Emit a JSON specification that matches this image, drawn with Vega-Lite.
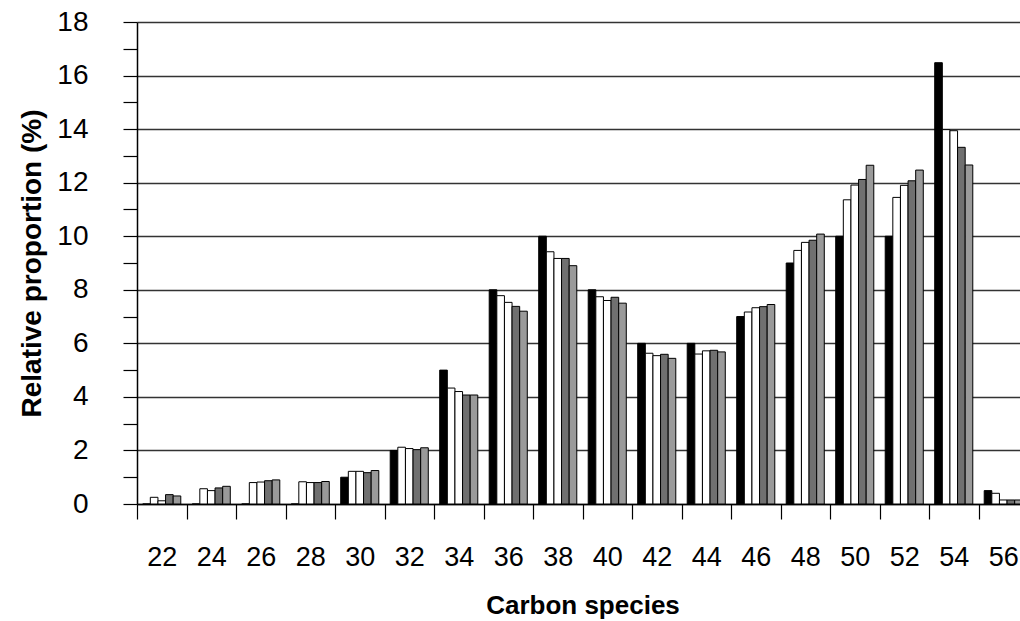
{
  "$schema": "https://vega.github.io/schema/vega-lite/v6.json",
  "autosize": {"type": "none"},
  "padding": {"left": 137, "top": 22, "right": 0, "bottom": 117},
  "width": 883,
  "height": 482,
  "background": "white",
  "config": {"view": {"stroke": null}, "font": "Liberation Sans"},
  "datasets": {
    "d": [
      {"c": "22", "s": "A", "v": 0}, {"c": "22", "s": "B", "v": 0.25}, {"c": "22", "s": "C", "v": 0.12}, {"c": "22", "s": "D", "v": 0.35}, {"c": "22", "s": "E", "v": 0.3},
      {"c": "24", "s": "A", "v": 0}, {"c": "24", "s": "B", "v": 0.57}, {"c": "24", "s": "C", "v": 0.5}, {"c": "24", "s": "D", "v": 0.6}, {"c": "24", "s": "E", "v": 0.66},
      {"c": "26", "s": "A", "v": 0}, {"c": "26", "s": "B", "v": 0.8}, {"c": "26", "s": "C", "v": 0.82}, {"c": "26", "s": "D", "v": 0.87}, {"c": "26", "s": "E", "v": 0.9},
      {"c": "28", "s": "A", "v": 0}, {"c": "28", "s": "B", "v": 0.83}, {"c": "28", "s": "C", "v": 0.8}, {"c": "28", "s": "D", "v": 0.8}, {"c": "28", "s": "E", "v": 0.84},
      {"c": "30", "s": "A", "v": 1.0}, {"c": "30", "s": "B", "v": 1.22}, {"c": "30", "s": "C", "v": 1.22}, {"c": "30", "s": "D", "v": 1.17}, {"c": "30", "s": "E", "v": 1.25},
      {"c": "32", "s": "A", "v": 2.0}, {"c": "32", "s": "B", "v": 2.12}, {"c": "32", "s": "C", "v": 2.07}, {"c": "32", "s": "D", "v": 2.03}, {"c": "32", "s": "E", "v": 2.1},
      {"c": "34", "s": "A", "v": 5.0}, {"c": "34", "s": "B", "v": 4.33}, {"c": "34", "s": "C", "v": 4.2}, {"c": "34", "s": "D", "v": 4.07}, {"c": "34", "s": "E", "v": 4.07},
      {"c": "36", "s": "A", "v": 8.0}, {"c": "36", "s": "B", "v": 7.78}, {"c": "36", "s": "C", "v": 7.53}, {"c": "36", "s": "D", "v": 7.38}, {"c": "36", "s": "E", "v": 7.2},
      {"c": "38", "s": "A", "v": 10.0}, {"c": "38", "s": "B", "v": 9.42}, {"c": "38", "s": "C", "v": 9.17}, {"c": "38", "s": "D", "v": 9.17}, {"c": "38", "s": "E", "v": 8.9},
      {"c": "40", "s": "A", "v": 8.0}, {"c": "40", "s": "B", "v": 7.74}, {"c": "40", "s": "C", "v": 7.6}, {"c": "40", "s": "D", "v": 7.72}, {"c": "40", "s": "E", "v": 7.5},
      {"c": "42", "s": "A", "v": 6.0}, {"c": "42", "s": "B", "v": 5.63}, {"c": "42", "s": "C", "v": 5.54}, {"c": "42", "s": "D", "v": 5.59}, {"c": "42", "s": "E", "v": 5.44},
      {"c": "44", "s": "A", "v": 6.0}, {"c": "44", "s": "B", "v": 5.6}, {"c": "44", "s": "C", "v": 5.72}, {"c": "44", "s": "D", "v": 5.74}, {"c": "44", "s": "E", "v": 5.68},
      {"c": "46", "s": "A", "v": 7.0}, {"c": "46", "s": "B", "v": 7.17}, {"c": "46", "s": "C", "v": 7.33}, {"c": "46", "s": "D", "v": 7.37}, {"c": "46", "s": "E", "v": 7.45},
      {"c": "48", "s": "A", "v": 9.0}, {"c": "48", "s": "B", "v": 9.47}, {"c": "48", "s": "C", "v": 9.77}, {"c": "48", "s": "D", "v": 9.85}, {"c": "48", "s": "E", "v": 10.08},
      {"c": "50", "s": "A", "v": 10.0}, {"c": "50", "s": "B", "v": 11.36}, {"c": "50", "s": "C", "v": 11.91}, {"c": "50", "s": "D", "v": 12.12}, {"c": "50", "s": "E", "v": 12.65},
      {"c": "52", "s": "A", "v": 10.0}, {"c": "52", "s": "B", "v": 11.45}, {"c": "52", "s": "C", "v": 11.9}, {"c": "52", "s": "D", "v": 12.07}, {"c": "52", "s": "E", "v": 12.47},
      {"c": "54", "s": "A", "v": 16.48}, {"c": "54", "s": "B", "v": 13.98}, {"c": "54", "s": "C", "v": 13.94}, {"c": "54", "s": "D", "v": 13.32}, {"c": "54", "s": "E", "v": 12.66},
      {"c": "56", "s": "A", "v": 0.5}, {"c": "56", "s": "B", "v": 0.4}, {"c": "56", "s": "C", "v": 0.15}, {"c": "56", "s": "D", "v": 0.15}, {"c": "56", "s": "E", "v": 0.15}
    ]
  },
  "data": {"name": "d"},
  "mark": {"type": "bar", "stroke": "black", "strokeWidth": 1},
  "encoding": {
    "x": {
      "field": "c", "type": "ordinal",
      "scale": {"range": [0, 891], "paddingInner": 0, "paddingOuter": 0},
      "axis": {
        "title": "Carbon species", "labelAngle": 0, "tickBand": "extent",
        "tickSize": 15, "tickColor": "black", "tickWidth": 1.2,
        "domainColor": "black", "domainWidth": 1.5,
        "labelFontSize": 27, "labelColor": "black", "labelPadding": 25,
        "titleFontSize": 26, "titleFontWeight": "bold", "titleColor": "black", "titlePadding": 22,
        "grid": false
      }
    },
    "xOffset": {"field": "s", "type": "nominal", "scale": {"paddingInner": 0, "paddingOuter": 0.75}},
    "y": {
      "field": "v", "type": "quantitative",
      "scale": {"domain": [0, 18], "nice": false},
      "axis": {
        "values": [0,1,2,3,4,5,6,7,8,9,10,11,12,13,14,15,16,17,18],
        "labelExpr": "datum.value % 2 === 0 ? datum.label : ''",
        "tickSize": 14, "tickColor": "black", "tickWidth": 1.2,
        "domainColor": "black", "domainWidth": 1.5,
        "labelFontSize": 28, "labelColor": "black", "labelPadding": 35,
        "title": "Relative proportion (%)", "titleFontSize": 28, "titleFontWeight": "bold", "titleColor": "black", "titlePadding": 10,
        "grid": true, "gridColor": "#333333", "gridWidth": 1.3,
        "gridOpacity": {"condition": {"test": "datum.value % 2 === 0", "value": 1}, "value": 0}
      }
    },
    "fill": {
      "field": "s", "type": "nominal",
      "scale": {"domain": ["A","B","C","D","E"], "range": ["#000000","#ffffff","#ffffff","#707070","#9a9a9a"]},
      "legend": null
    }
  }
}
